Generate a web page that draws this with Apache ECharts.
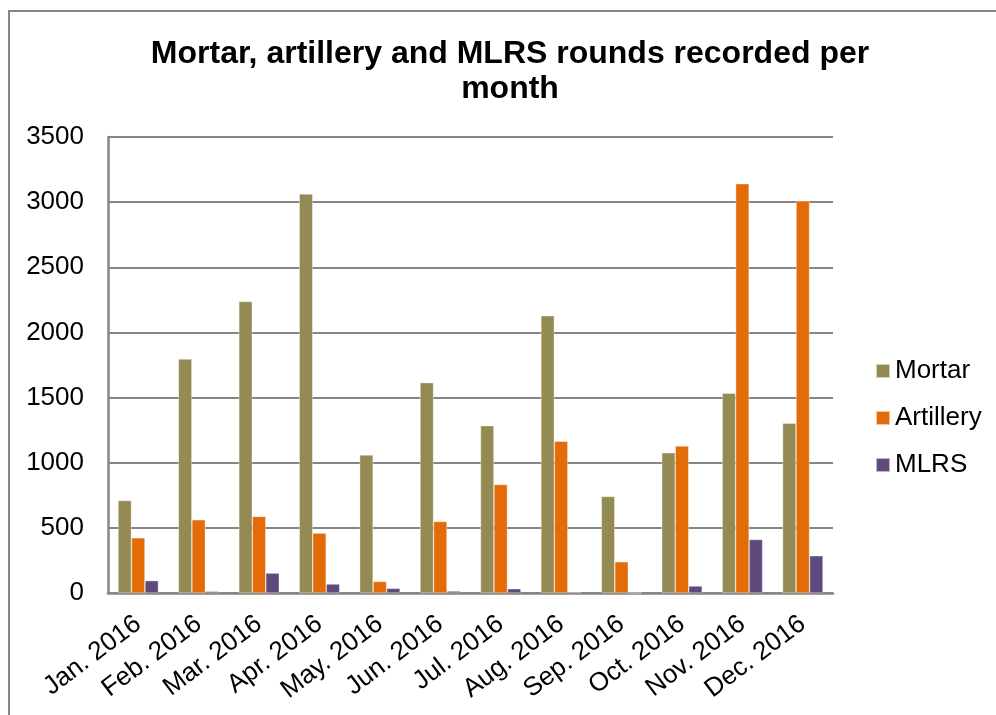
<!DOCTYPE html>
<html>
<head>
<meta charset="utf-8">
<script src="https://cdn.jsdelivr.net/npm/echarts@6/dist/echarts.min.js"></script>
<style>
html,body{margin:0;padding:0;background:#fff;}
#frame{position:absolute;left:8px;top:10px;width:1000px;height:720px;border-top:2px solid #868686;border-left:2px solid #868686;}
#chart{position:absolute;left:0;top:0;width:996px;height:715px;}
</style>
</head>
<body>
<div id="frame"></div>
<div id="chart"></div>
<script>
const categories = ["Jan. 2016","Feb. 2016","Mar. 2016","Apr. 2016","May. 2016","Jun. 2016","Jul. 2016","Aug. 2016","Sep. 2016","Oct. 2016","Nov. 2016","Dec. 2016"];
const mortar = [710, 1796, 2238, 3063, 1060, 1615, 1285, 2128, 741, 1076, 1533, 1303];
const artillery = [424, 562, 588, 460, 89, 549, 833, 1165, 240, 1129, 3142, 3010];
const mlrs = [95, 13, 153, 69, 36, 15, 33, 8, 0, 54, 411, 286];
const yTicks = [0, 500, 1000, 1500, 2000, 2500, 3000, 3500];

const chart = echarts.init(document.getElementById('chart'), null, {renderer:'canvas'});
const font = 'Arial, "Liberation Sans", sans-serif';
function bar(name, data, color){
  return {name, type:'bar', data, barGap:'0%', barCategoryGap:'33%',
    itemStyle:{color, borderColor:'rgba(255,255,255,0.6)', borderWidth:0.6}};
}
chart.setOption({
  animation:false,
  backgroundColor:'transparent',
  title:{text:'Mortar, artillery and MLRS rounds recorded per\nmonth', left:505, textAlign:'center', top:32,
    textStyle:{fontFamily:font, fontSize:32, fontWeight:'bold', color:'#000', lineHeight:35}},
  legend:{orient:'vertical', left:875, top:358, padding:0, itemWidth:14, itemHeight:14, itemGap:21, icon:'rect',
    textStyle:{fontFamily:font, fontSize:26, color:'#000'},
    data:['Mortar','Artillery','MLRS']},
  grid:{left:108, top:137, width:725, height:456, containLabel:false},
  xAxis:{type:'category', data:categories,
    axisLine:{lineStyle:{color:'#868686', width:2.5}},
    axisTick:{show:false},
    axisLabel:{rotate:37, interval:0, fontFamily:font, fontSize:26, color:'#000', margin:28}},
  yAxis:{type:'value', min:yTicks[0], max:yTicks[yTicks.length-1], interval:500,
    axisLine:{show:true, lineStyle:{color:'#868686', width:2.5}},
    axisTick:{show:false},
    splitLine:{lineStyle:{color:'#868686', width:2}},
    axisLabel:{fontFamily:font, fontSize:26, color:'#000', margin:24, formatter:v => String(v)}},
  series:[bar('Mortar', mortar, '#948A54'), bar('Artillery', artillery, '#E36C09'), bar('MLRS', mlrs, '#604A7B')]
});
</script>
</body>
</html>
